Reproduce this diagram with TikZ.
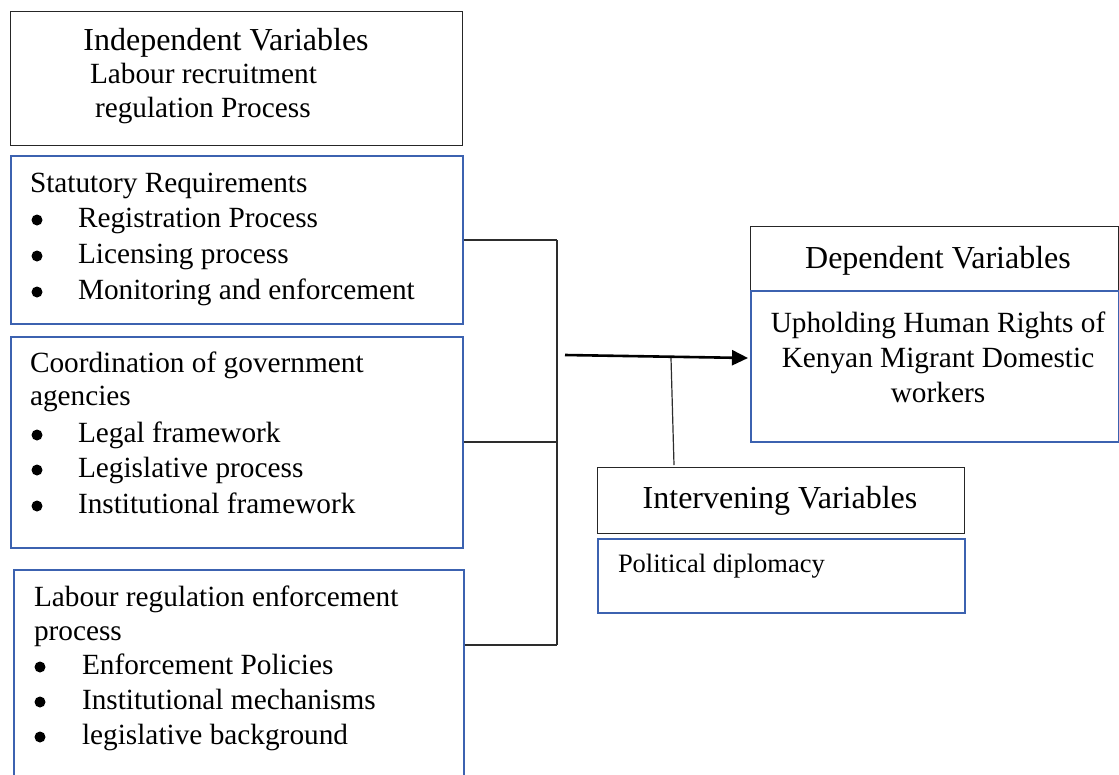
\documentclass[tikz,border=0pt]{standalone}
\usepackage{fontspec}
\setmainfont{Liberation Serif}
\usetikzlibrary{arrows.meta,calc}
\definecolor{boxblue}{RGB}{60,98,176}
\definecolor{linegray}{RGB}{45,45,45}
\newcommand\headfnt{\fontsize{32}{38}\selectfont}
\newcommand\bodyfnt{\fontsize{29.3}{36}\selectfont}
\newcommand\smallfnt{\fontsize{26.5}{32}\selectfont}
\begin{document}
\begin{tikzpicture}[x=1pt,y=-1pt,
  blackbox/.style={draw=black!85,line width=1.4pt,anchor=north west,inner sep=0pt},
  bluebox/.style={draw=boxblue,line width=1.5pt,anchor=north west,inner sep=0pt},
  txt/.style={inner sep=0pt,outer sep=0pt,font=\bodyfnt,anchor=base west},
  head/.style={inner sep=0pt,outer sep=0pt,font=\headfnt,anchor=base},
  bul/.style={circle,fill=black,inner sep=0pt,minimum size=11pt},
  conn/.style={draw=linegray,line width=1.2pt},
  bigarrow/.style={draw=black,line width=2.6pt,-{Triangle[length=16pt,width=15pt]}}]
\clip (0,0) rectangle (1119,774);
\fill[white] (0,0) rectangle (1119,774);

% Independent variables
\node[blackbox,minimum width=452pt,minimum height=134pt] (indep) at (10,11) {};
\node[head] (indepT) at (226,50) {Independent Variables};
\node[txt] (indepL1) at (90,83) {Labour recruitment};
\node[txt] (indepL2) at (95,117) {regulation Process};

% Statutory requirements
\node[bluebox,minimum width=452pt,minimum height=168pt] (stat) at (10,155) {};
\node[txt] (statT) at (30,192) {Statutory Requirements};
\node[bul] (statB1) at (37,220) {};
\node[txt] (statI1) at (78,227) {Registration Process};
\node[bul] (statB2) at (37,256) {};
\node[txt] (statI2) at (78,263) {Licensing process};
\node[bul] (statB3) at (37,292) {};
\node[txt] (statI3) at (78,299) {Monitoring and enforcement};

% Coordination
\node[bluebox,minimum width=452pt,minimum height=211pt] (coord) at (10,336) {};
\node[txt] (coordT1) at (30,372) {Coordination of government};
\node[txt] (coordT2) at (30,405) {agencies};
\node[bul] (coordB1) at (37,435) {};
\node[txt] (coordI1) at (78,442) {Legal framework};
\node[bul] (coordB2) at (37,470) {};
\node[txt] (coordI2) at (78,477) {Legislative process};
\node[bul] (coordB3) at (37,506) {};
\node[txt] (coordI3) at (78,513) {Institutional framework};

% Labour regulation enforcement
\node[bluebox,minimum width=450pt,minimum height=230pt] (enf) at (13,569) {};
\node[txt] (enfT1) at (34,606) {Labour regulation enforcement};
\node[txt] (enfT2) at (34,640) {process};
\node[bul] (enfB1) at (40,667) {};
\node[txt] (enfI1) at (82,674) {Enforcement Policies};
\node[bul] (enfB2) at (40,702) {};
\node[txt] (enfI2) at (82,709) {Institutional mechanisms};
\node[bul] (enfB3) at (40,737) {};
\node[txt] (enfI3) at (82,744) {legislative background};

% Dependent variables
\node[blackbox,minimum width=368pt,minimum height=64pt] (dep) at (750,226) {};
\node[head] (depT) at (938,268) {Dependent Variables};
\node[bluebox,minimum width=368pt,minimum height=151pt] (uph) at (750,290) {};
\node[head,font=\bodyfnt] (uphL1) at (938,332) {Upholding Human Rights of};
\node[head,font=\bodyfnt] (uphL2) at (938,367) {Kenyan Migrant Domestic};
\node[head,font=\bodyfnt] (uphL3) at (938,402) {workers};

% Intervening variables
\node[blackbox,minimum width=367pt,minimum height=66pt] (intv) at (597,467) {};
\node[head] (intvT) at (780,508) {Intervening Variables};
\node[bluebox,minimum width=367pt,minimum height=74pt] (pol) at (597,538) {};
\node[txt,font=\smallfnt] (polT) at (618,572) {Political diplomacy};

% connectors
\coordinate (j1) at (557,240);
\coordinate (j2) at (557,442);
\coordinate (j3) at (557,645);
\coordinate (astart) at (565,355);
\coordinate (aend) at (748,358);
\coordinate (tjoin) at (671,358);
\coordinate (tend) at (674,465);
\draw[conn] (stat.east |- j1) -- (j1);
\draw[conn] (coord.east |- j2) -- (j2);
\draw[conn] (enf.east |- j3) -- (j3);
\draw[conn] (j1) -- (j3);
\draw[bigarrow] (astart) -- (aend);
\draw[conn] (tjoin) -- (tend);
\end{tikzpicture}
\end{document}
